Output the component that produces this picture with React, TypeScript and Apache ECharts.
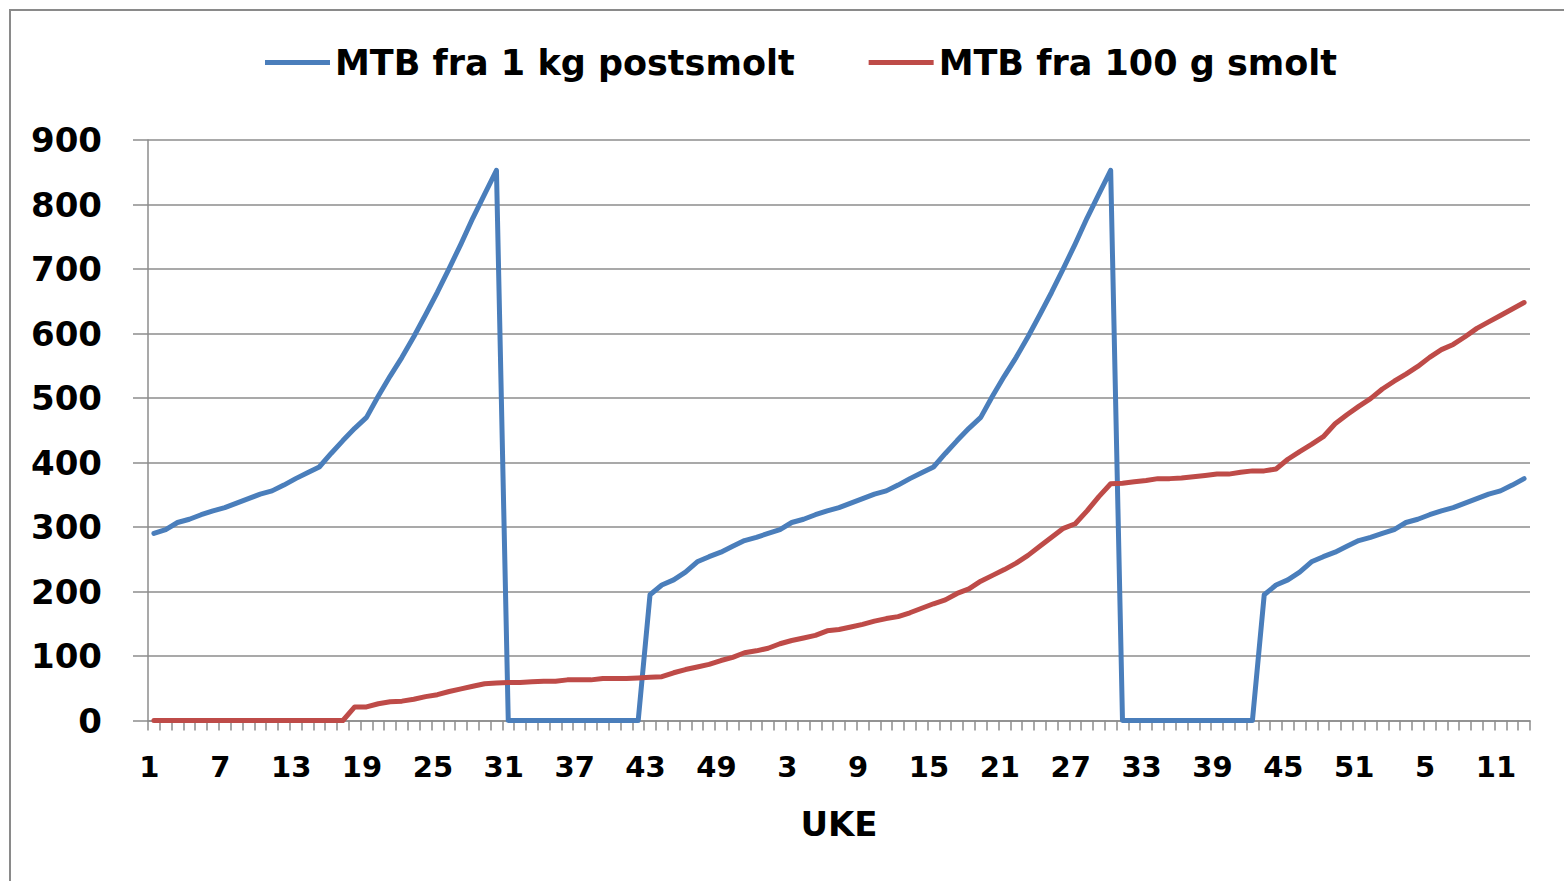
import React, { useEffect, useRef } from "react";
import * as echarts from "echarts";

const weeks: string[] = [
  "1","2","3","4","5","6","7","8","9","10","11","12","13","14","15","16","17","18","19","20","21","22","23","24","25","26",
  "27","28","29","30","31","32","33","34","35","36","37","38","39","40","41","42","43","44","45","46","47","48","49","50","51","52",
  "1","2","3","4","5","6","7","8","9","10","11","12","13","14","15","16","17","18","19","20","21","22","23","24","25","26",
  "27","28","29","30","31","32","33","34","35","36","37","38","39","40","41","42","43","44","45","46","47","48","49","50","51","52",
  "1","2","3","4","5","6","7","8","9","10","11","12","13",
];

const postsmolt1kg: number[] = [
  290, 296, 307, 312, 319, 325, 330, 337, 344, 351, 356, 365, 375, 384, 393, 414, 434, 453, 470, 503, 534, 563, 595, 629, 664, 701,
  739, 779, 816, 853, 0, 0, 0, 0, 0, 0, 0, 0, 0, 0, 0, 0, 195, 210, 218, 230, 246, 254, 261, 270, 279, 284,
  290, 296, 307, 312, 319, 325, 330, 337, 344, 351, 356, 365, 375, 384, 393, 414, 434, 453, 470, 503, 534, 563, 595, 629, 664, 701,
  739, 779, 816, 853, 0, 0, 0, 0, 0, 0, 0, 0, 0, 0, 0, 0, 195, 210, 218, 230, 246, 254, 261, 270, 279, 284,
  290, 296, 307, 312, 319, 325, 330, 337, 344, 351, 356, 365, 375,
];

const smolt100g: number[] = [
  0, 0, 0, 0, 0, 0, 0, 0, 0, 0, 0, 0, 0, 0, 0, 0, 0, 21, 21, 26, 29, 30, 33, 37, 40, 45,
  49, 53, 57, 58, 59, 59, 60, 61, 61, 63, 63, 63, 65, 65, 65, 66, 67, 68, 74, 79, 83, 87, 93, 98, 105, 108,
  112, 119, 124, 128, 132, 139, 141, 145, 149, 154, 158, 161, 167, 174, 181, 187, 197, 204, 216, 225, 234, 244, 256, 270,
  284, 298, 305, 325, 347, 367, 368, 370, 372, 375, 375, 376, 378, 380, 382, 382, 385, 387, 387, 390, 405, 417, 428, 440, 460, 474,
  487, 499, 514, 526, 537, 549, 563, 575, 583, 595, 608, 618, 628, 638, 648,
];

const seriesNames = ["MTB fra 1 kg postsmolt", "MTB fra 100 g smolt"];
const yTicks = { min: 0, max: 900, interval: 100 };

const FONT = "DejaVu Sans";
const GRAY = "#8c8c8c";

export default function App() {
  const ref = useRef<HTMLDivElement>(null);
  useEffect(() => {
    if (!ref.current) return;
    const chart = echarts.init(ref.current, undefined, { renderer: "svg" });
    chart.setOption({
      animation: false,
      backgroundColor: "#ffffff",
      graphic: [
        {
          type: "rect",
          shape: { x: 10, y: 10, width: 1700, height: 1000 },
          style: { fill: "none", stroke: "#8a8a8a", lineWidth: 2 },
          silent: true,
        },
      ],
      legend: {
        left: 260,
        top: 40,
        itemWidth: 65,
        itemHeight: 5,
        itemGap: 74,
        icon: "rect",
        textStyle: { fontFamily: FONT, fontWeight: "bold", fontSize: 35, color: "#000" },
        data: seriesNames,
      },
      grid: { left: 148, right: 34, top: 140, bottom: 160.5, containLabel: false },
      xAxis: {
        type: "category",
        data: weeks,
        boundaryGap: true,
        name: "UKE",
        nameLocation: "middle",
        nameGap: 86,
        nameTextStyle: { fontFamily: FONT, fontWeight: "bold", fontSize: 34, color: "#000" },
        axisLine: { show: true, lineStyle: { color: GRAY, width: 1.5 } },
        axisTick: { show: true, interval: 0, length: 10, lineStyle: { color: GRAY, width: 1.5 } },
        axisLabel: {
          interval: 5,
          fontFamily: FONT,
          fontWeight: "bold",
          fontSize: 29,
          color: "#000",
          margin: 32,
          padding: [0, 9, 0, 0],
        },
        splitLine: { show: false },
      },
      yAxis: {
        type: "value",
        min: yTicks.min,
        max: yTicks.max,
        interval: yTicks.interval,
        axisLine: { show: true, lineStyle: { color: GRAY, width: 1.5 } },
        axisTick: { show: true, length: 15, lineStyle: { color: GRAY, width: 1.5 } },
        axisLabel: { fontFamily: FONT, fontWeight: "bold", fontSize: 34, color: "#000", margin: 46 },
        splitLine: { show: true, lineStyle: { color: GRAY, width: 1.5 } },
      },
      series: [
        {
          name: seriesNames[0],
          type: "line",
          data: postsmolt1kg,
          symbol: "none",
          showSymbol: false,
          itemStyle: { color: "#4A7EBB" },
          lineStyle: { color: "#4A7EBB", width: 5, cap: "round", join: "round" },
        },
        {
          name: seriesNames[1],
          type: "line",
          data: smolt100g,
          symbol: "none",
          showSymbol: false,
          itemStyle: { color: "#BE4B48" },
          lineStyle: { color: "#BE4B48", width: 5, cap: "round", join: "round" },
        },
      ],
    });
    return () => chart.dispose();
  }, []);
  return (
    <div
      ref={ref}
      style={{ position: "absolute", left: 0, top: 0, width: 1564, height: 881, background: "#fff" }}
    />
  );
}
